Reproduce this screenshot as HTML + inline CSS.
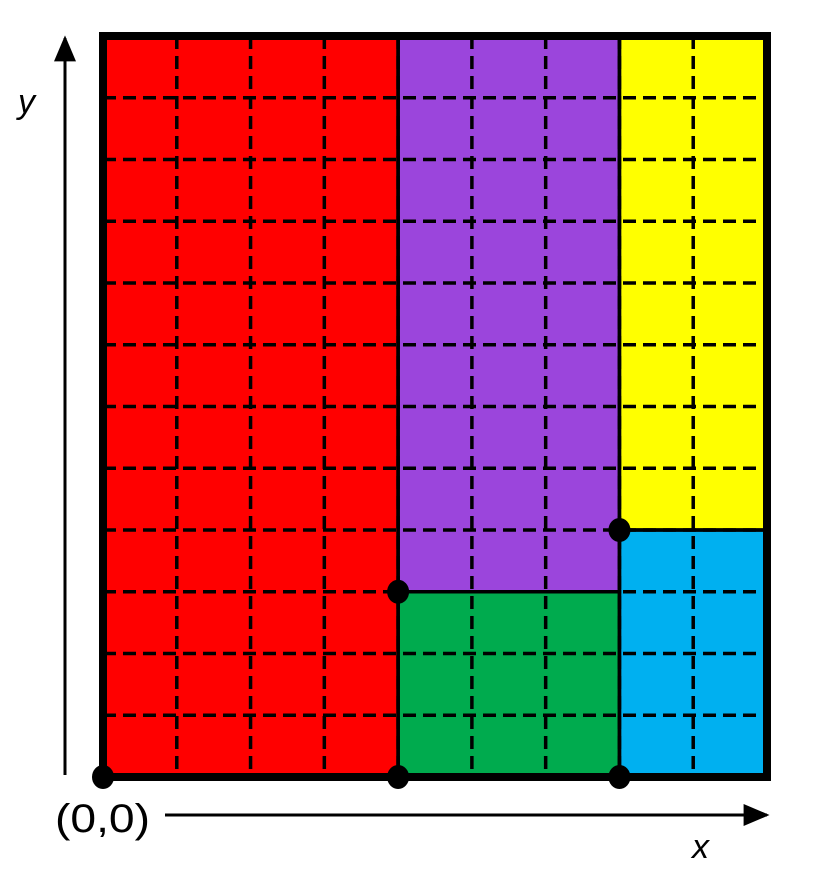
<!DOCTYPE html>
<html><head><meta charset="utf-8"><style>body{margin:0;background:#fff}svg{display:block}</style></head>
<body>
<svg id="chart" width="830" height="870" viewBox="0 0 830 870" xmlns="http://www.w3.org/2000/svg">
<defs><marker id="ah" viewBox="0 0 10 10" refX="9" refY="5" markerUnits="userSpaceOnUse" markerWidth="26" markerHeight="22" orient="auto" preserveAspectRatio="none"><path d="M0,0L10,5L0,10z" fill="#000"/></marker></defs>
<g id="regions"></g><g id="grid"></g><g id="borders"></g><g id="dots"></g>
<line x1="65" y1="775" x2="65" y2="38" stroke="#000" stroke-width="3" marker-end="url(#ah)"/>
<line x1="165" y1="815" x2="767" y2="815" stroke="#000" stroke-width="3" marker-end="url(#ah)"/>
<text x="18" y="113" font-family="Liberation Sans, sans-serif" font-style="italic" font-size="34">y</text>
<text x="692" y="858" font-family="Liberation Sans, sans-serif" font-style="italic" font-size="34">x</text>
<text x="55" y="832" textLength="95" lengthAdjust="spacingAndGlyphs" font-family="Liberation Sans, sans-serif" font-size="40">(0,0)</text>
</svg>
<script>
const cols = 9, rows = 12;
const regionNames = ['red','purple','yellow','green','blue'];
const regionX0 = [0,4,7,4,7];
const regionX1 = [4,7,9,7,9];
const regionY0 = [0,3,4,0,0];
const regionY1 = [12,12,12,3,4];
const regionColors = ['#ff0000','#9b45dc','#ffff00','#00ab4e','#00b0f0'];
const dotX = [0,4,7,4,7];
const dotY = [0,0,0,3,4];
const X = v => 103 + v*(767-103)/cols;
const Y = v => 777 - v*(777-36)/rows;
const NS='http://www.w3.org/2000/svg';
function mk(t,a,p){const e=document.createElementNS(NS,t);for(const k in a)e.setAttribute(k,a[k]);document.getElementById(p).appendChild(e);return e;}
regionNames.forEach((n,i)=>{
 const r=mk('rect',{x:X(regionX0[i]),y:Y(regionY1[i]),width:X(regionX1[i])-X(regionX0[i]),height:Y(regionY0[i])-Y(regionY1[i]),fill:regionColors[i]},'regions');
 
 
});
for(let c=1;c<cols;c++){const l=mk('line',{x1:X(c),y1:Y(rows),x2:X(c),y2:Y(0),stroke:'#000','stroke-width':3.5,'stroke-dasharray':'13 7'},'grid');
 
 }
for(let r=1;r<rows;r++){const l=mk('line',{x1:X(0),y1:Y(r),x2:X(cols),y2:Y(r),stroke:'#000','stroke-width':3.5,'stroke-dasharray':'13 7'},'grid');
 
 }
regionNames.forEach((n,i)=>{
 const b=mk('rect',{x:X(regionX0[i]),y:Y(regionY1[i]),width:X(regionX1[i])-X(regionX0[i]),height:Y(regionY0[i])-Y(regionY1[i]),fill:'none',stroke:'#000','stroke-width':3.5},'borders');
 
 
});
const ob=mk('rect',{x:X(0),y:Y(rows),width:X(cols)-X(0),height:Y(0)-Y(rows),fill:'none',stroke:'#000','stroke-width':8},'borders');


dotX.forEach((v,i)=>{
 const d=mk('ellipse',{cx:X(v),cy:Y(dotY[i]),rx:11,ry:12,fill:'#000'},'dots');
 
 
});
</script>
</body></html>
